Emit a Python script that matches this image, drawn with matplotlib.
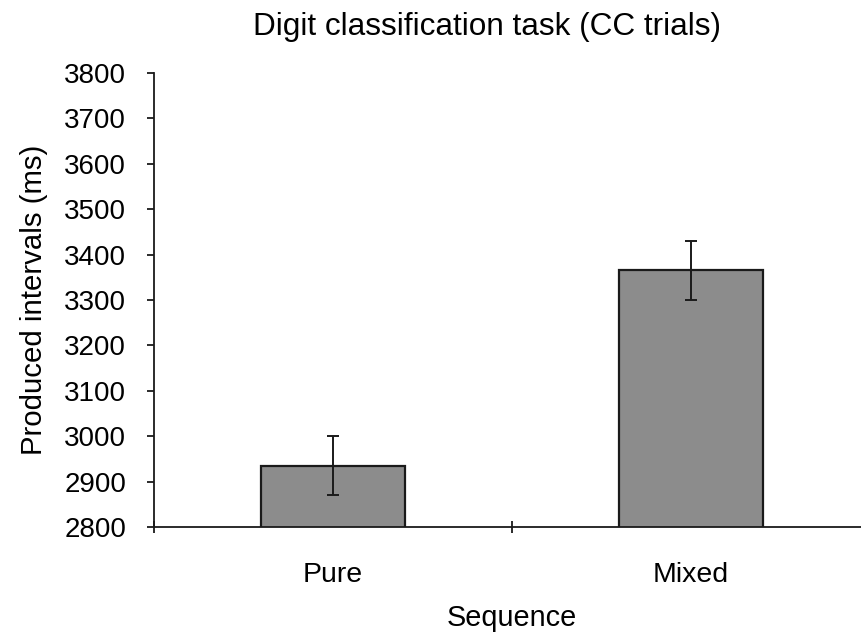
import matplotlib
matplotlib.use("Agg")
import matplotlib.pyplot as plt

categories = ["Pure", "Mixed"]
means = [2935, 3366]
errors = [65, 65]
y_ticks = [2800, 2900, 3000, 3100, 3200, 3300, 3400, 3500, 3600, 3700, 3800]

plt.rcParams["font.family"] = ["Liberation Sans", "DejaVu Sans"]

fig = plt.figure(figsize=(8.62, 6.36), dpi=100)
W, H = 862, 636
ax = fig.add_axes([154 / W, (H - 527) / H, 716 / W, (527 - 73) / H])

x = [0.5, 1.5]
ax.bar(x, means, width=0.4, color="#8c8c8c", edgecolor="#1a1a1a", linewidth=1.6, zorder=2)
ax.errorbar(x, means, yerr=errors, fmt="none", ecolor="#1a1a1a", elinewidth=1.4,
            capsize=4.3, capthick=1.4, zorder=3)

ax.set_xlim(0, 2)
ax.set_ylim(2800, 3800)
ax.set_yticks(y_ticks)
ax.set_yticklabels([str(v) for v in y_ticks])
ax.set_xticks([0, 1, 2], minor=False)
ax.set_xticklabels(["", "", ""])
ax.set_xticks(x, minor=True)
ax.set_xticklabels(categories, minor=True)

for side in ["top", "right"]:
    ax.spines[side].set_visible(False)
for side in ["left", "bottom"]:
    ax.spines[side].set_color("#1a1a1a")
    ax.spines[side].set_linewidth(1.3)

ax.tick_params(axis="y", direction="out", length=5, width=1.3, color="#1a1a1a",
               labelsize=20, pad=15)
ax.tick_params(axis="x", which="major", direction="inout", length=9, width=1.3,
               color="#1a1a1a")
ax.tick_params(axis="x", which="minor", length=0, labelsize=20.5, pad=25)

ax.set_ylabel("Produced intervals (ms)", fontsize=21.2, labelpad=12)
ax.set_xlabel("Sequence", fontsize=20.8, labelpad=12)
fig.text(487 / W, 1 - 35 / H, "Digit classification task (CC trials)",
         ha="center", va="baseline", fontsize=22.7)

fig.savefig("out.png", dpi=100)
